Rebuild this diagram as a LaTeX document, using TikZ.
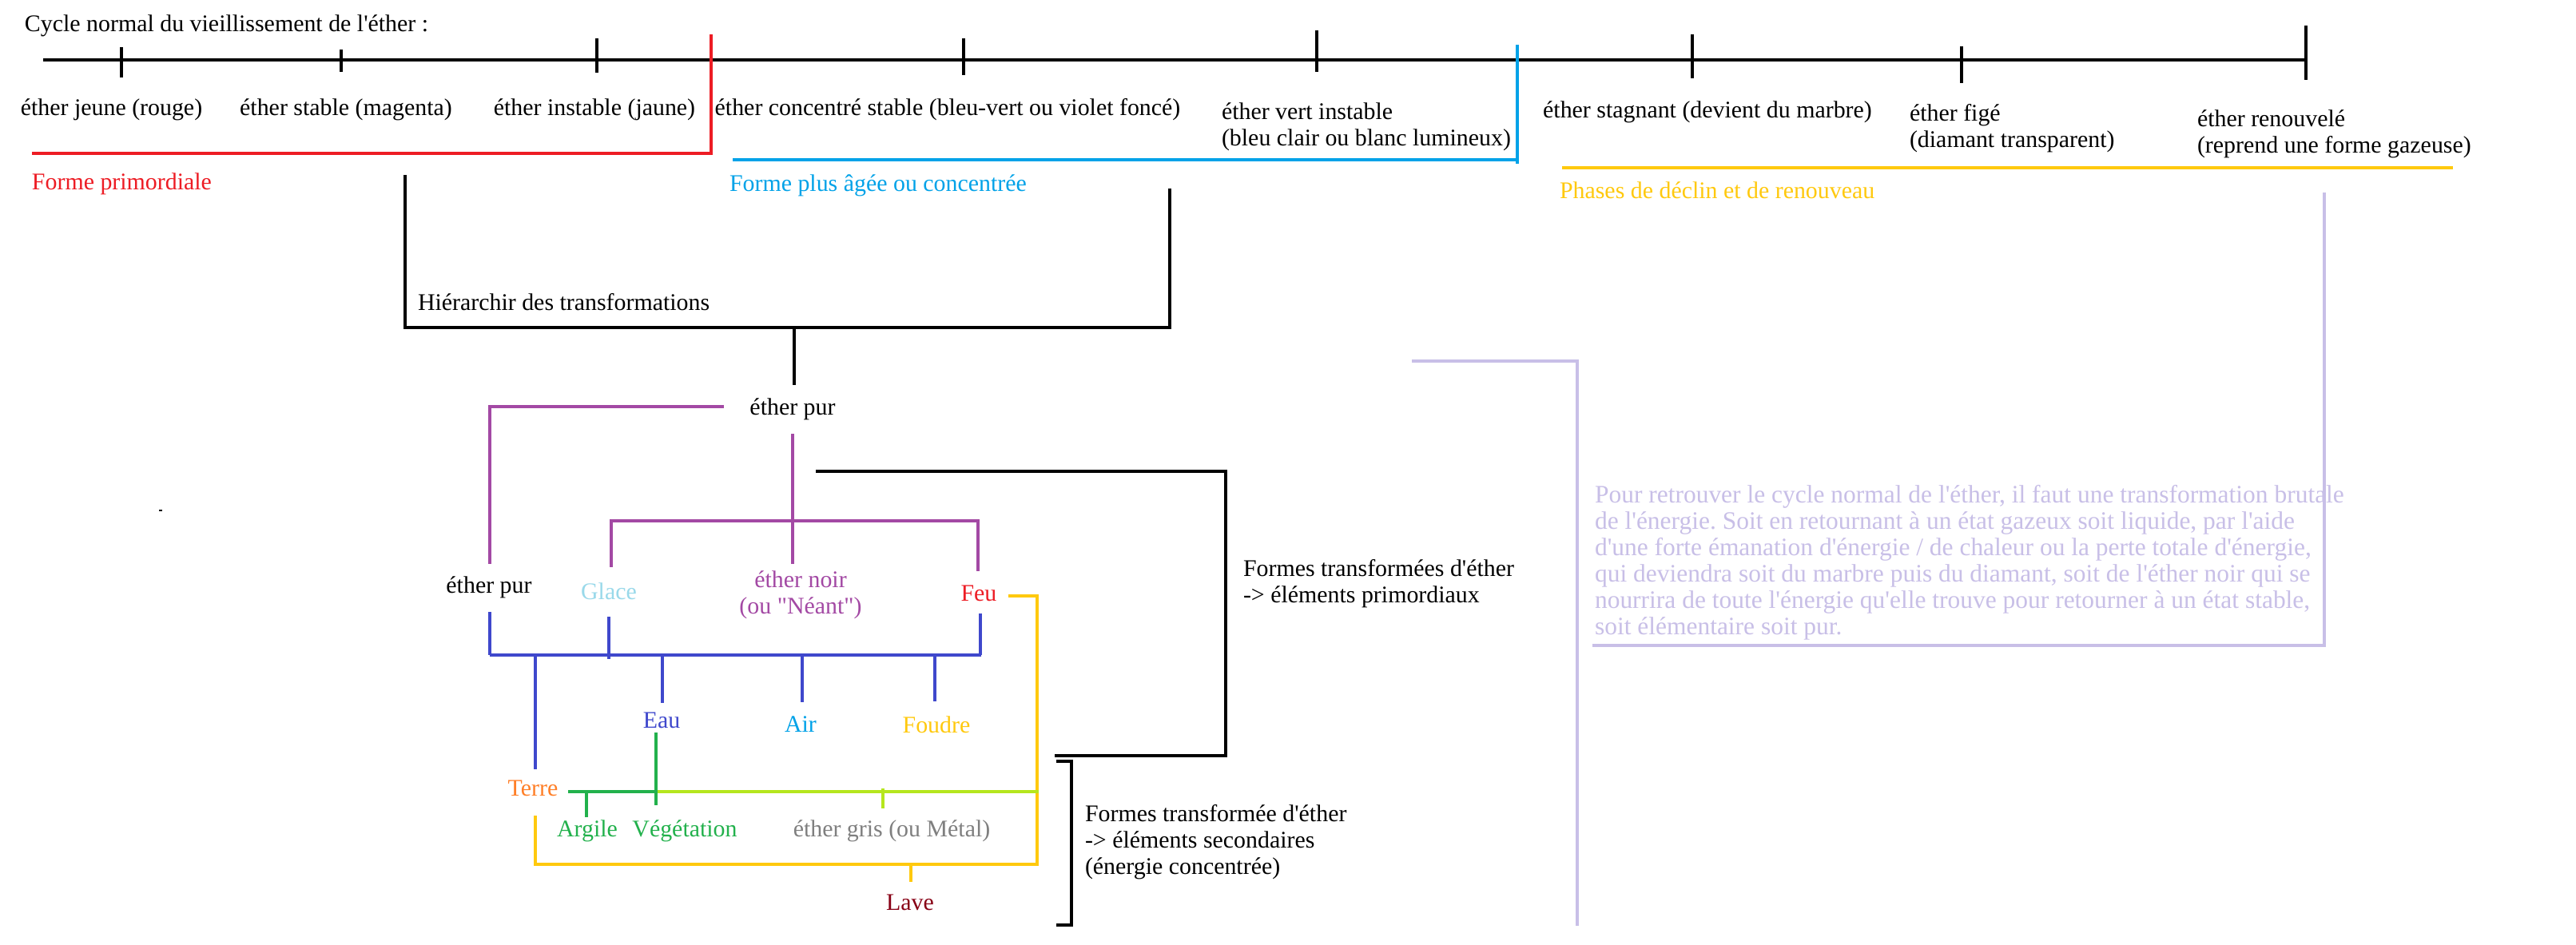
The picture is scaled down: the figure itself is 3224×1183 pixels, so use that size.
\documentclass[tikz,border=0pt]{standalone}
\usepackage{fontspec}
\setmainfont{Liberation Serif}[Ligatures=TeXOff]
\frenchspacing
\definecolor{pRed}{HTML}{ED1C24}
\definecolor{pBlue}{HTML}{00A2E8}
\definecolor{pYellow}{HTML}{FFC90E}
\definecolor{pLav}{HTML}{C8BFE7}
\definecolor{pPurple}{HTML}{A349A4}
\definecolor{pIndigo}{HTML}{3F48CC}
\definecolor{pGreen}{HTML}{22B14C}
\definecolor{pLime}{HTML}{B5E61D}
\definecolor{pOrange}{HTML}{FF7F27}
\definecolor{pIce}{HTML}{99D9EA}
\definecolor{pLava}{HTML}{880015}
\definecolor{pGray}{HTML}{7F7F7F}
\begin{document}
\begin{tikzpicture}[x=0.01cm,y=-0.01cm,
  every node/.style={inner sep=0pt,outer sep=0pt,font=\fontsize{8.5}{9.4}\selectfont},
  lbl/.style={anchor=center},
  lft/.style={anchor=west},
  multi/.style={align=left,anchor=north west},
  thickln/.style={line width=1.14pt},
  medln/.style={line width=0.9pt}]
\useasboundingbox (0,0) rectangle (3224,1183);
\fill[white] (0,0) rectangle (3224,1183);

% ---------- timeline ----------
\node[lft] (title) at (31,32) {Cycle normal du vieillissement de l'éther :};
\draw[thickln] (54,75) -- (2886,75);
\foreach \x/\a/\b in {152/59/97,427/62/90,747/48/91,1206/48/94,1648/38/90,2118/43/98,2455/58/104,2886/32/100}
  \draw[medln] (\x,\a) -- (\x,\b);

\node[lbl] (jeune) at (139.5,137) {éther jeune (rouge)};
\node[lbl] (stable) at (433,137) {éther stable (magenta)};
\node[lbl] (instable) at (744,137) {éther instable (jaune)};
\node[lbl] (concentre) at (1186,137) {éther concentré stable (bleu-vert ou violet foncé)};
\node[multi] (vert) at (1529,129) {éther vert instable\\(bleu clair ou blanc lumineux)};
\node[lbl] (stagnant) at (2137,140) {éther stagnant (devient du marbre)};
\node[multi] (fige) at (2390,130) {éther figé\\(diamant transparent)};
\node[multi] (renouvele) at (2750,138) {éther renouvelé\\(reprend une forme gazeuse)};

% ---------- phase brackets ----------
\draw[medln,pRed] (40,192) -- (890,192) -- (890,43);
\node[lft,text=pRed] (prim) at (40,230) {Forme primordiale};
\draw[medln,pBlue] (917,200) -- (1899,200);
\draw[medln,pBlue] (1899,56) -- (1899,205);
\node[lft,text=pBlue] (agee) at (913,232) {Forme plus âgée ou concentrée};
\draw[thickln,pYellow] (1955,210) -- (3070,210);
\node[lft,text=pYellow] (declin) at (1952,238) {Phases de déclin et de renouveau};

% ---------- hierarchy ----------
\draw[thickln] (507,219) -- (507,410) -- (1464,410) -- (1464,236);
\node[lft] (hier) at (523,378) {Hiérarchir des transformations};
\draw[medln] (994,410) -- (994,482);
\node[lbl] (pur1) at (992,512) {éther pur};

% purple
\draw[medln,pPurple] (906,509) -- (613,509) -- (613,706);
\draw[medln,pPurple] (992,543) -- (992,706);
\draw[medln,pPurple] (765,710) -- (765,652) -- (1224,652) -- (1224,715);

\node[lbl] (pur2) at (612,735) {éther pur};
\node[lbl,text=pIce] (glace) at (762,740) {Glace};
\node[lbl,align=center,text=pPurple] (noir) at (1002,745) {éther noir\\(ou "Néant")};
\node[lbl,text=pRed] (feu) at (1225,743) {Feu};

% black bracket to primordial label
\draw[thickln] (1021,590) -- (1534,590) -- (1534,946) -- (1320,946);
\node[multi] (prim2) at (1556,700) {Formes transformées d'éther\\-> éléments primordiaux};

% blue links
\draw[thickln,pIndigo] (613,766) -- (613,820);
\draw[thickln,pIndigo] (613,820) -- (1228,820);
\draw[thickln,pIndigo] (762,772) -- (762,825);
\draw[thickln,pIndigo] (1227,768) -- (1227,820);
\draw[thickln,pIndigo] (670,820) -- (670,963);
\draw[thickln,pIndigo] (829,820) -- (829,880);
\draw[thickln,pIndigo] (1004,818) -- (1004,879);
\draw[thickln,pIndigo] (1170,820) -- (1170,878);

\node[lbl,text=pIndigo] (eau) at (828,902) {Eau};
\node[lbl,text=pBlue] (air) at (1002,907) {Air};
\node[lbl,text=pYellow] (foudre) at (1172,907) {Foudre};

% yellow
\draw[medln,pYellow] (1262,746) -- (1298,746) -- (1298,1082) -- (670,1082) -- (670,1021);
\draw[medln,pYellow] (1140,1082) -- (1140,1104);

% greens
\draw[thickln,pLime] (820,991) -- (1300,991);
\draw[thickln,pLime] (1105,987) -- (1105,1012);
\draw[thickln,pGreen] (711,991) -- (820,991);
\draw[thickln,pGreen] (734,991) -- (734,1023);
\draw[thickln,pGreen] (821,917) -- (821,1008);

\node[lbl,text=pOrange] (terre) at (667,987) {Terre};
\node[lbl,text=pGreen] (argile) at (735,1040) {Argile};
\node[lbl,text=pGreen] (vege) at (857,1040) {Végétation};
\node[lbl,text=pGray] (gris) at (1116,1040) {éther gris (ou Métal)};
\node[lbl,text=pLava] (lave) at (1139,1130) {Lave};

% secondary bracket
\draw[thickln] (1322,953) -- (1341,953) -- (1341,1158) -- (1322,1158);
\node[multi] (sec) at (1358,1007) {Formes transformée d'éther\\-> éléments secondaires\\(énergie concentrée)};

% lavender box
\draw[thickln,pLav] (1767,452) -- (1974,452) -- (1974,1159);
\draw[thickln,pLav] (2909,241) -- (2909,808) -- (1993,808);
\node[multi,text=pLav,font=\fontsize{8.95}{9.4}\selectfont] (para) at (1996,607) {Pour retrouver le cycle normal de l'éther, il faut une transformation brutale\\de l'énergie. Soit en retournant à un état gazeux soit liquide, par l'aide\\d'une forte émanation d'énergie / de chaleur ou la perte totale d'énergie,\\qui deviendra soit du marbre puis du diamant, soit de l'éther noir qui se\\nourrira de toute l'énergie qu'elle trouve pour retourner à un état stable,\\soit élémentaire soit pur.};

% stray dot
\fill (199,638) rectangle (203,640);
\end{tikzpicture}
\end{document}
